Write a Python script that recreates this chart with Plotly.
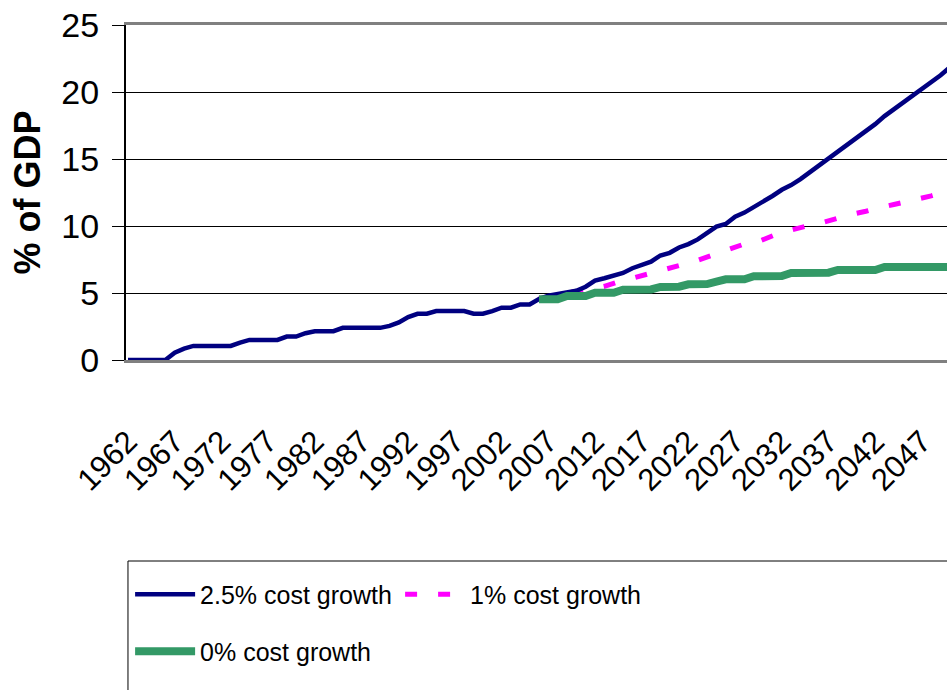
import plotly.graph_objects as go

years = list(range(1962, 2051))
proj_years = list(range(2006, 2051))

cost_25 = [0, 0, 0, 0, 0, 0.55, 0.85, 1.05, 1.05, 1.05, 1.05, 1.05,
           1.3, 1.5, 1.5, 1.5, 1.5, 1.75, 1.75, 2.0, 2.15, 2.15, 2.15,
           2.4, 2.4, 2.4, 2.4, 2.4, 2.55, 2.8, 3.2, 3.45, 3.45,
           3.65, 3.65, 3.65, 3.65, 3.45, 3.45, 3.65, 3.9, 3.9, 4.15,
           4.15, 4.55, 4.8, 4.92, 5.05, 5.17, 5.47, 5.92, 6.1, 6.3,
           6.5, 6.85, 7.1, 7.34, 7.8, 8.0, 8.4, 8.65, 9.0, 9.45,
           9.95, 10.15, 10.7, 11.0, 11.4, 11.8, 12.24, 12.7, 13.05, 13.5,
           14.0, 14.6, 15.1, 15.5, 16.1, 16.5, 17.0, 17.6, 18.2, 18.7,
           19.2, 19.7, 20.2, 20.75, 21.25, 21.85]

cost_1 = [4.55, 4.75, 4.9, 5.0, 5.1, 5.2, 5.35, 5.5, 5.75, 5.95,
          6.1, 6.3, 6.45, 6.65, 6.85, 7.05, 7.2, 7.45, 7.75, 8.0,
          8.2, 8.45, 8.66, 8.7, 9.0, 9.3, 9.55, 9.7, 9.9, 10.05,
          10.2, 10.4, 10.6, 10.8, 10.95, 11.1, 11.3, 11.45, 11.6, 11.75,
          11.9, 12.1, 12.25, 12.45, 12.65]

cost_0 = [4.53, 4.53, 4.53, 4.78, 4.78, 4.78, 5.02, 5.02, 5.02, 5.25,
          5.27, 5.27, 5.27, 5.45, 5.47, 5.47, 5.65, 5.67, 5.67, 5.85,
          6.02, 6.02, 6.02, 6.25, 6.27, 6.27, 6.27, 6.5, 6.52, 6.52,
          6.52, 6.52, 6.72, 6.72, 6.72, 6.72, 6.72, 6.94, 6.94, 6.94,
          6.94, 6.94, 6.94, 6.94, 6.94]

tick_years = list(range(1962, 2048, 5))
tick_labels = [str(y) for y in tick_years]

FONT = "Liberation Sans, Arial, sans-serif"

fig = go.Figure()
fig.add_trace(go.Scatter(x=proj_years, y=cost_1, mode="lines", name="1% cost growth",
                         line=dict(color="#FF00FF", width=5, dash="12px,21px"),
                         legend="legend", legendrank=2))
fig.add_trace(go.Scatter(x=years, y=cost_25, mode="lines", name="2.5% cost growth",
                         line=dict(color="#000080", width=4.5),
                         legend="legend", legendrank=1))
fig.add_trace(go.Scatter(x=proj_years, y=cost_0, mode="lines", name="0% cost growth",
                         line=dict(color="#339966", width=8),
                         legend="legend2"))

px_per_year = 9.34
x0 = 1962 - 2 / px_per_year
x1 = 1962 + (947 - 128) / px_per_year

fig.update_layout(
    width=947, height=690,
    margin=dict(l=126, r=0, t=25, b=330),
    paper_bgcolor="white", plot_bgcolor="white",
    font=dict(family=FONT, color="black"),
    xaxis=dict(range=[x0, x1], tickmode="array", tickvals=tick_years, ticktext=tick_labels,
               tickangle=-45, tickfont=dict(size=31, family=FONT),
               ticks="outside", ticklen=48, tickcolor="rgba(0,0,0,0)",
               showgrid=False, zeroline=False,
               showline=True, linecolor="#808080", linewidth=3, mirror=True),
    yaxis=dict(range=[0, 25], tickvals=[0, 5, 10, 15, 20, 25],
               tickfont=dict(size=34, family=FONT),
               ticks="outside", ticklen=12, tickcolor="black", tickwidth=1,
               ticklabelstandoff=6,
               showgrid=True, gridcolor="black", gridwidth=1, zeroline=False,
               showline=True, linecolor="black", linewidth=2,
               title=dict(text="<b>% of GDP</b>", font=dict(size=36, family=FONT), standoff=10)),
    legend=dict(orientation="h", x=0.005, y=-0.70, xanchor="left", yanchor="middle",
                font=dict(size=25, family=FONT), bgcolor="rgba(0,0,0,0)",
                entrywidth=195, itemwidth=60, traceorder="normal"),
    legend2=dict(orientation="h", x=0.005, y=-0.87, xanchor="left", yanchor="middle",
                 font=dict(size=25, family=FONT), bgcolor="rgba(0,0,0,0)",
                 itemwidth=60),
    shapes=[dict(type="rect", xref="paper", yref="paper", x0=0.0024, x1=1.05, y0=-0.6, y1=-1.2,
                 line=dict(color="black", width=1), fillcolor="rgba(0,0,0,0)", layer="below")],
)

fig.write_html("out.html", config={"displayModeBar": False},
               post_script="document.body.style.margin='0';")
